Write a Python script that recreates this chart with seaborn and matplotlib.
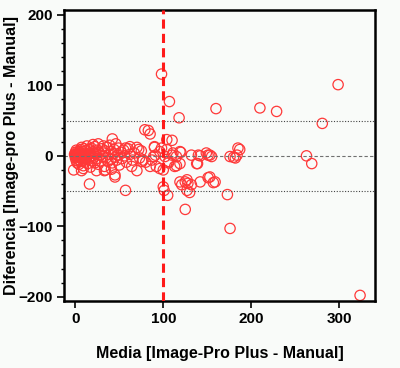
import pandas as pd
import matplotlib
matplotlib.use('Agg')
import matplotlib.pyplot as plt
from matplotlib.ticker import MultipleLocator
import seaborn as sns

# valores (Bland-Altman)
media_dispersa = [98, 299, 107, 160, 210, 229, 118, 281, 79, 83, 85, 42, 104, 110, 90, 187,
                  263, 269, 180, 184, 151, 155, 142, 132, 139, 120, 115, 110, 106, 96, 92, 87,
                  121, 125, 128, 127, 130, 142, 151, 157, 173, 101, 105, 125, 176, 324, 16, 57,
                  45, 7, 33, 70, 24, 41, 45, -2, 9, 34, 64, 76, 72, 91, 98, 102, 106, 90,
                  96, 104, 111, 119, 115, 119, 89, 77, 85, 100, 113, 140, 138, 149, 153, 176,
                  182, 185, 153, 159, 127, 119, 132, 100, 20, 26, 32, 62, 57]
dif_dispersa = [116, 101, 77, 67, 68, 63, 54, 46, 37, 36, 31, 24, 23, 22, 12, 9,
                0, -11, -2, 1, 1, -1, 0, 1, -11, 5, -14, 1, -8, -18, -15, -6,
                -41, -37, -39, -49, -52, -37, -31, -38, -55, -49, -56, -76, -103, -198, -40, -49,
                -30, -21, -21, -21, -21, -19, -27, -20, -18, -20, -15, -8, 9, 1, 11, -1, -10, 13,
                6, 9, 4, 6, -1, -11, -1, -6, -15, -20, -15, 1, -11, 4, 1, -1,
                -3, 11, -30, -37, -34, -37, -41, -44, 16, 17, 14, 13, 11]

media_grupo = [-1, 0, 0, 1, 1, 1, 2, 2, 3, 3, 3, 4, 4, 5, 5, 6, 6, 7, 7, 8, 8, 9, 9, 10, 10,
               11, 11, 12, 12, 13, 14, 14, 15, 15, 16, 17, 18, 18, 19, 20,
               21, 22, 22, 23, 24, 25, 26, 27, 28, 29, 30, 31, 32, 33, 34, 35, 36, 37, 38, 39, 40,
               41, 42, 43, 44, 45, 46, 47, 48, 49, 50,
               52, 53, 55, 56, 58, 60, 62, 65, 67, 70, 73, 75, 80,
               0, 1, 2, 2, 3, 4, 5, 6, 7, 8, 10, 12, 13, 16]
dif_grupo = [2, -3, 5, 0, -7, 8, 3, -10, -1, 6, -5, 1, -12, 4, -2, 9, -8, 0, 12, -4,
             6, -14, 3, -6, 10, 1, -9, 7, -3, 14, -11, 2, -5, 9, 4, -16, 0, 11, -7, 6,
             -2, 13, -10, 3, -4, 8, -12, 5, 1, -7, 10, -1, 4, -15, 7, -3, 12, -8, 2, 15,
             -5, 6, -10, 3, 9, -2, 17, -6, 1, 11, -13, 5, -4, 8, 0, -9, 10, 2, -6, 4,
             12, -3, 7, -9,
             1, -1, 0, 2, -2, 3, -1, 1, -3, 2, 0, -2, 1, -1]

sesgo = 0
limites = [50, -50]
corte = 100

df = pd.DataFrame({'media': media_dispersa + media_grupo,
                   'dif': dif_dispersa + dif_grupo})

sns.set_style('ticks')
plt.rcParams['font.family'] = ['Liberation Sans', 'DejaVu Sans']
plt.rcParams['font.weight'] = 'bold'
plt.rcParams['text.color'] = 'black'
plt.rcParams['axes.labelcolor'] = 'black'

fig, ax = plt.subplots(figsize=(4, 3.68), dpi=100)
fig.patch.set_facecolor('#f9fbf9')
ax.set_facecolor('#f9fbf9')
fig.subplots_adjust(left=0.16, right=0.9375, top=0.973, bottom=0.182)

sns.scatterplot(data=df, x='media', y='dif', ax=ax, marker='o', s=55,
                facecolor='none', edgecolor='#ff3838', linewidth=0.9)

ax.axhline(sesgo, color='#707070', lw=0.8, ls=(0, (3, 2)), zorder=1)
for lim in limites:
    ax.axhline(lim, color='#444444', lw=0.8, ls=(0, (1, 1.5)), zorder=1)
ax.axvline(corte, color='#ff1a1a', lw=2.2, ls=(0, (3, 1.7)), zorder=3)

ax.set_xlim(-13, 341)
ax.set_ylim(-206, 207)
ax.set_xticks([0, 100, 200, 300])
ax.set_yticks([-200, -100, 0, 100, 200])
ax.yaxis.set_minor_locator(MultipleLocator(20))
ax.tick_params(axis='both', which='major', direction='out', length=5, width=1.2,
               labelsize=11, colors='black', pad=3)
ax.tick_params(axis='y', which='minor', direction='out', length=2.5, width=1, colors='black')
for lbl in ax.get_xticklabels() + ax.get_yticklabels():
    lbl.set_fontweight('bold')
for sp in ax.spines.values():
    sp.set_linewidth(1.8)
    sp.set_color('black')

ax.set_xlabel('Media [Image-Pro Plus - Manual]', fontsize=11.5, fontweight='bold', labelpad=14)
ax.set_ylabel('Diferencia [Image-pro Plus - Manual]', fontsize=11.5, fontweight='bold', labelpad=0)

plt.savefig('out.png', dpi=100, facecolor=fig.get_facecolor())
